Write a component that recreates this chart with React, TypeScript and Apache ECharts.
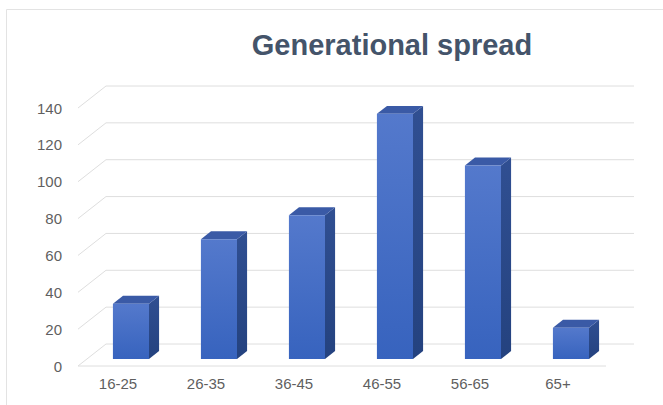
import React, { useEffect, useRef } from "react";
import * as echarts from "echarts";

// Age bands and head counts
const categories = ["16-25", "26-35", "36-45", "46-55", "56-65", "65+"];
const counts = [30, 65, 78, 133, 105, 17];
const yTicks = [0, 20, 40, 60, 80, 100, 120, 140];

const titleText = "Generational spread";

// Pseudo-3D depth of the plot box (pixels the back wall is shifted by)
const DEPTH_X = 28;
const DEPTH_Y = 22;
// Bars sit in the middle slice of the depth
const BAR_FRONT = 0.32;
const BAR_DEPTH = 0.36;
const BAR_WIDTH = 0.41;

const FONT = "'Liberation Sans', Arial, sans-serif";
const GRID_COLOR = "#dedede";

export default function App() {
  const ref = useRef<HTMLDivElement>(null);

  useEffect(() => {
    if (!ref.current) return;
    const chart = echarts.init(ref.current, null, { renderer: "svg" });

    const wallsItem = (params: any, api: any) => {
      const cs = params.coordSys;
      const v = api.value(1);
      const y = api.coord([0, v])[1];
      const children: any[] = [
        {
          type: "polyline",
          shape: {
            points: [
              [cs.x, y],
              [cs.x + DEPTH_X, y - DEPTH_Y],
              [cs.x + cs.width + DEPTH_X, y - DEPTH_Y],
            ],
          },
          style: { stroke: GRID_COLOR, lineWidth: 1, fill: "none" },
        },
      ];
      if (v === 0) {
        children.push({
          type: "line",
          shape: { x1: cs.x, y1: y, x2: cs.x + cs.width, y2: y },
          style: { stroke: GRID_COLOR, lineWidth: 1 },
        });
      }
      return { type: "group", children };
    };

    const barItem = (params: any, api: any) => {
      const idx = api.value(0);
      const v = api.value(1);
      const base = api.coord([idx, 0]);
      const top = api.coord([idx, v]);
      const band = api.size([1, 0])[0];
      const w = band * BAR_WIDTH;
      const ox = DEPTH_X * BAR_FRONT;
      const oy = -DEPTH_Y * BAR_FRONT;
      const bx = DEPTH_X * BAR_DEPTH;
      const by = -DEPTH_Y * BAR_DEPTH;
      const x0 = base[0] - w / 2 + ox;
      const x1 = x0 + w;
      const yb = base[1] + oy;
      const yt = top[1] + oy;
      return {
        type: "group",
        children: [
          {
            type: "polygon",
            shape: {
              points: [
                [x1, yt],
                [x1 + bx, yt + by],
                [x1 + bx, yb + by],
                [x1, yb],
              ],
            },
            style: {
              fill: new echarts.graphic.LinearGradient(0, 0, 0, 1, [
                { offset: 0, color: "#304f92" },
                { offset: 1, color: "#24427f" },
              ]),
            },
          },
          {
            type: "polygon",
            shape: {
              points: [
                [x0, yt],
                [x1, yt],
                [x1 + bx, yt + by],
                [x0 + bx, yt + by],
              ],
            },
            style: { fill: "#3a5aa6" },
          },
          {
            type: "rect",
            shape: { x: x0, y: yt, width: w, height: yb - yt },
            style: {
              fill: new echarts.graphic.LinearGradient(0, 0, 0, 1, [
                { offset: 0, color: "#5479cc" },
                { offset: 1, color: "#3763be" },
              ]),
            },
          },
        ],
      };
    };

    chart.setOption({
      animation: false,
      backgroundColor: "#ffffff",
      grid: { left: 78, right: 57, top: 108, bottom: 39 },
      xAxis: {
        type: "category",
        data: categories,
        axisLine: { show: false },
        axisTick: { show: false },
        splitLine: { show: false },
        axisLabel: {
          color: "#5f5f5f",
          fontSize: 15,
          fontFamily: FONT,
          margin: 10,
          padding: [0, 8, 0, 0],
        },
      },
      yAxis: {
        type: "value",
        min: 0,
        max: 140,
        interval: 20,
        axisLine: { show: false },
        axisTick: { show: false },
        splitLine: { show: false },
        axisLabel: {
          color: "#5f5f5f",
          fontSize: 15,
          fontFamily: FONT,
          margin: 16,
        },
      },
      graphic: [
        {
          type: "rect",
          shape: { x: 6.5, y: 9.5, width: 720, height: 440 },
          style: { fill: "none", stroke: "#e3e3e3", lineWidth: 1 },
          silent: true,
        },
        {
          type: "text",
          x: 392,
          y: 45,
          style: {
            text: titleText,
            fill: "#44546a",
            font: `bold 29px ${FONT}`,
            textAlign: "center",
            textVerticalAlign: "middle",
          },
        },
      ],
      series: [
        {
          type: "custom",
          name: "walls",
          z: 1,
          silent: true,
          renderItem: wallsItem,
          data: yTicks.map((t) => [0, t]),
        },
        {
          type: "custom",
          name: "Count",
          z: 2,
          renderItem: barItem,
          data: counts.map((c, i) => [i, c]),
        },
      ],
    });

    return () => chart.dispose();
  }, []);

  return (
    <div
      ref={ref}
      style={{ position: "fixed", left: 0, top: 0, width: 663, height: 405 }}
    />
  );
}
